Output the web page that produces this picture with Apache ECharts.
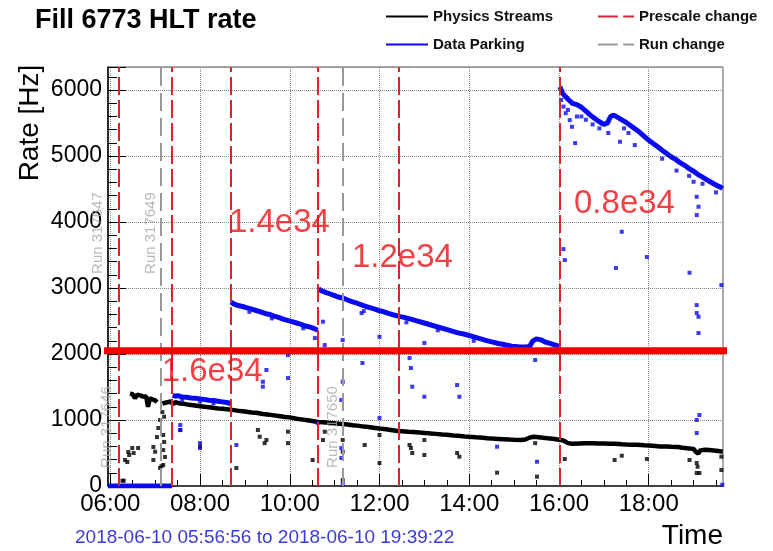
<!DOCTYPE html>
<html>
<head>
<meta charset="utf-8">
<title>Fill 6773 HLT rate</title>
<script src="https://cdn.jsdelivr.net/npm/echarts@6/dist/echarts.min.js"></script>
<style>
  html, body { margin: 0; padding: 0; background: #fff; }
  #chart { width: 773px; height: 551px; }
</style>
</head>
<body>
<div id="chart"></div>
<script>
// x values are hours of 2018-06-10
const fillStart = 5 + 56 / 60 + 56 / 3600   // 05:56:56
const fillEnd = 19 + 39 / 60 + 22 / 3600    // 19:39:22
const hourTicks = [6, 8, 10, 12, 14, 16, 18]
const halfHourTicks = [6.5, 7, 7.5, 8.5, 9, 9.5, 10.5, 11, 11.5, 12.5, 13, 13.5,
  14.5, 15, 15.5, 16.5, 17, 17.5, 18.5, 19, 19.5]

// main trend of the physics streams rate, '-' breaks the line
const physicsBand = [
  [6.44, 1400], [6.5, 1390], [6.55, 1330], [6.6, 1385], [6.68, 1370], [6.75, 1350], [6.8, 1360],
  [6.84, 1200], [6.88, 1330], [6.95, 1310], [7.0, 1300], [7.04, 1270], [7.1, '-'],
  [7.16, 1250], [7.25, 1265], [7.35, 1280], [7.4, 1240], [7.45, 1270], [7.55, 1250], [7.65, 1245],
  [7.75, 1230], [7.85, 1225], [8.0, 1210], [8.1, 1200], [8.25, 1190], [8.4, 1175], [8.5, 1170],
  [8.65, 1160], [8.75, 1150], [8.9, 1135], [9.0, 1130], [9.15, 1115], [9.25, 1110], [9.4, 1090],
  [9.5, 1085], [9.65, 1070], [9.75, 1060], [9.9, 1045], [10.0, 1040], [10.15, 1020], [10.25, 1010],
  [10.4, 995], [10.5, 985], [10.63, 970], [10.75, 965], [10.9, 955], [11.0, 950], [11.15, 940],
  [11.25, 935], [11.4, 920], [11.5, 915], [11.65, 900], [11.75, 895], [11.9, 880], [12.0, 870],
  [12.15, 860], [12.25, 850], [12.4, 835], [12.5, 830], [12.65, 822], [12.75, 820], [12.9, 810],
  [13.0, 805], [13.15, 795], [13.25, 790], [13.4, 780], [13.5, 775], [13.65, 765], [13.75, 760],
  [13.9, 750], [14.0, 745], [14.15, 738], [14.25, 735], [14.4, 725], [14.5, 720], [14.65, 714],
  [14.75, 710], [14.9, 703], [15.0, 700], [15.15, 698], [15.25, 705], [15.35, 735], [15.45, 745],
  [15.55, 740], [15.65, 730], [15.75, 722], [15.9, 712], [16.0, 700], [16.1, 690], [16.2, 650],
  [16.3, 640], [16.45, 645], [16.6, 648], [16.75, 646], [16.9, 644], [17.0, 645], [17.15, 642],
  [17.25, 640], [17.4, 633], [17.5, 630], [17.65, 627], [17.75, 625], [17.9, 618], [18.0, 615],
  [18.15, 607], [18.25, 600], [18.4, 597], [18.5, 594], [18.65, 590], [18.75, 580], [18.9, 570],
  [19.0, 560], [19.05, 520], [19.1, 490], [19.15, 540], [19.25, 550], [19.35, 545], [19.45, 538],
  [19.55, 530], [19.65, 520]
]

const physicsOutliers = [
  [6.27, 80], [6.3, 80], [6.33, 394], [6.38, 364], [6.4, 515], [6.42, 470], [6.49, 576], [6.52, 500],
  [6.62, 576], [6.96, 591], [6.96, 394], [7.0, 520], [7.04, 742], [7.07, 879], [7.11, 1000],
  [7.16, 1121], [7.18, 773], [7.2, 667], [7.18, 545], [7.22, 440], [7.18, 318], [7.11, 273],
  [7.14, 300], [7.2, 1050], [7.56, 848], [8.0, 595], [8.81, 273], [9.29, 848], [9.33, 747],
  [9.44, 650], [9.48, 697], [9.96, 823], [9.96, 650], [10.51, 394], [10.74, 697], [10.78, 823],
  [11.18, 697], [11.18, 520], [11.18, 90], [11.67, 621], [12.0, 773], [12.0, 348], [12.67, 621],
  [12.7, 576], [12.73, 500], [13.0, 697], [13.0, 470], [13.73, 500], [13.78, 444], [14.62, 202],
  [15.47, 650], [15.51, 141], [16.13, 409], [17.24, 394], [17.4, 459], [17.96, 409], [18.91, 394],
  [19.07, 348], [19.09, 292], [19.07, 197], [19.13, 197], [19.62, 242], [19.62, 444]
]

// data parking rate, one piece per prescale column
const parkingBand = [
  [5.949, 0], [7.38, 0], [7.385, '-'],
  [7.39, 1375], [7.45, 1360], [7.5, 1370], [7.6, 1350], [7.7, 1345], [7.8, 1335], [7.9, 1330],
  [8.0, 1320], [8.1, 1310], [8.2, 1300], [8.3, 1295], [8.4, 1285], [8.5, 1275], [8.6, 1265],
  [8.68, 1250], [8.685, '-'],
  [8.69, 2790], [8.75, 2760], [8.85, 2735], [8.95, 2720], [9.05, 2700], [9.15, 2680], [9.25, 2660],
  [9.35, 2640], [9.45, 2615], [9.55, 2600], [9.65, 2575], [9.75, 2555], [9.85, 2530], [9.95, 2510],
  [10.05, 2490], [10.15, 2470], [10.25, 2450], [10.35, 2425], [10.45, 2410], [10.55, 2385],
  [10.62, 2360], [10.625, '-'],
  [10.64, 2990], [10.7, 2960], [10.8, 2935], [10.9, 2910], [11.0, 2885], [11.1, 2860], [11.2, 2845],
  [11.3, 2815], [11.4, 2790], [11.5, 2770], [11.6, 2745], [11.7, 2720], [11.8, 2700], [11.9, 2680],
  [12.0, 2655], [12.1, 2640], [12.2, 2615], [12.3, 2595], [12.44, 2570], [12.55, 2555], [12.7, 2530],
  [12.85, 2500], [13.0, 2470], [13.15, 2440], [13.3, 2410], [13.45, 2380], [13.6, 2350], [13.75, 2320],
  [13.9, 2300], [14.05, 2270], [14.2, 2240], [14.35, 2210], [14.5, 2185], [14.65, 2160], [14.8, 2140],
  [14.95, 2120], [15.1, 2110], [15.25, 2105], [15.35, 2120], [15.42, 2200], [15.5, 2230], [15.6, 2215],
  [15.7, 2180], [15.8, 2160], [15.9, 2140], [16.0, 2120], [16.01, '-'],
  [16.02, 6050], [16.08, 5950], [16.15, 5900], [16.22, 5850], [16.3, 5800], [16.4, 5780], [16.5, 5740],
  [16.6, 5680], [16.7, 5620], [16.8, 5570], [16.9, 5520], [17.0, 5480], [17.08, 5500], [17.15, 5600],
  [17.22, 5620], [17.3, 5590], [17.4, 5550], [17.5, 5510], [17.6, 5460], [17.7, 5410], [17.8, 5360],
  [17.9, 5300], [18.0, 5240], [18.1, 5190], [18.2, 5140], [18.3, 5090], [18.4, 5040], [18.5, 4990],
  [18.6, 4950], [18.7, 4900], [18.8, 4860], [18.9, 4810], [19.0, 4770], [19.1, 4720], [19.2, 4680],
  [19.3, 4640], [19.4, 4600], [19.5, 4560], [19.6, 4530], [19.65, 4510]
]

const parkingOutliers = [
  [7.6, 1300], [8.0, 1280], [8.3, 1255], [9.1, 2640], [9.6, 2540], [10.3, 2390], [11.6, 2620],
  [11.65, 2650], [12.6, 2480], [13.3, 2360], [14.1, 2200], [15.3, 2080],
  [16.05, 5850], [16.1, 5750], [16.15, 5650], [16.2, 5700], [16.24, 5545], [16.29, 5444],
  [16.36, 5197], [16.4, 5600], [16.5, 5600], [16.6, 5550], [16.75, 5480], [16.9, 5420], [17.1, 5350],
  [17.36, 5217], [17.45, 5420], [17.55, 5350], [17.69, 5167], [18.3, 4960], [18.62, 4780],
  [18.9, 4700], [19.2, 4580], [19.5, 4450],
  [7.56, 924], [7.56, 848], [8.0, 650], [8.0, 576], [8.81, 621], [9.48, 1758], [9.4, 1580],
  [9.4, 1505], [9.96, 1985], [9.96, 1636], [10.56, 2242], [10.74, 2490], [10.78, 2136], [10.62, 955],
  [11.18, 2212], [11.18, 1580], [11.15, 1303], [11.15, 576], [11.15, 424], [11.18, 30],
  [11.62, 1864], [12.0, 2262], [12.0, 1030], [12.67, 1939], [12.7, 1788], [12.73, 1505],
  [13.0, 2167], [13.0, 1353], [13.73, 1530], [13.78, 1353], [14.62, 595], [15.47, 1909],
  [15.51, 368], [16.1, 3590], [16.13, 3424], [17.27, 3303], [17.4, 3853], [17.96, 3470],
  [18.91, 3232], [19.0, 4611], [19.07, 4383], [19.11, 4232], [19.07, 4106], [19.07, 2742],
  [19.07, 2621], [19.11, 2565], [19.11, 2318], [19.07, 1000], [19.13, 1076], [19.07, 803],
  [19.62, 3045], [19.64, 20]
]

const prescaleTimes = [6.18, 7.38, 8.68, 10.63, 12.44, 16.01]
const runChangeTimes = [7.13, 11.17]

const runLabels = ['Run 317646', 'Run 317647', 'Run 317649', 'Run 317650']
const runLabelTimes = [5.93, 5.73, 6.91, 10.96]
const runLabelRates = [894, 3833, 3833, 894]

const lumiLabels = ['1.6e34', '1.4e34', '1.2e34', '0.8e34']
const lumiTimes = [8.27, 9.77, 12.51, 17.46]
const lumiRates = [1730, 3990, 3460, 4270]

const thresholdRate = 2050
const thresholdSpan = [5.8, 19.78]

const fontFamily = '"Liberation Sans", Arial, sans-serif'

function hourLabel(v) {
  return (v < 10 ? '0' : '') + v + ':00'
}

// legend icons: plain thin line, and a long+short dash
const solidIcon = 'rect'
const dashIcon = 'path://M0,0H22V2H0ZM28,0H40V2H28Z'

const chart = echarts.init(document.getElementById('chart'))

chart.setOption({
  animation: false,
  textStyle: { fontFamily: fontFamily },
  title: [
    {
      text: 'Fill 6773 HLT rate', left: 35, top: 7, padding: 0,
      textStyle: { fontSize: 27, fontWeight: 'bold', color: '#000', fontFamily: fontFamily }
    },
    {
      text: '2018-06-10 05:56:56 to 2018-06-10 19:39:22', left: 75, top: 528, padding: 0,
      textStyle: { fontSize: 19, fontWeight: 'normal', color: '#3b3bd9', fontFamily: fontFamily }
    },
    {
      text: 'Time', right: 50, top: 522, padding: 0,
      textStyle: { fontSize: 28, fontWeight: 'normal', color: '#000', fontFamily: fontFamily }
    }
  ],
  graphic: [
    {
      type: 'text', x: 30, y: 123, rotation: Math.PI / 2,
      style: {
        text: 'Rate [Hz]', fontSize: 28, fontFamily: fontFamily, fill: '#000',
        textAlign: 'center', textVerticalAlign: 'middle'
      }
    }
  ],
  legend: [
    {
      data: [
        { name: 'Physics Streams', icon: solidIcon },
        { name: 'Data Parking', icon: solidIcon }
      ],
      orient: 'vertical', left: 381, top: 3, itemWidth: 42, itemHeight: 2, itemGap: 11,
      textStyle: { fontSize: 15, fontWeight: 'bold', color: '#111', lineHeight: 17 }
    },
    {
      data: [
        { name: 'Prescale change', icon: dashIcon },
        { name: 'Run change', icon: dashIcon }
      ],
      orient: 'vertical', left: 593, top: 3, itemWidth: 36, itemHeight: 2, itemGap: 11,
      textStyle: { fontSize: 15, fontWeight: 'bold', color: '#111', lineHeight: 17 }
    }
  ],
  grid: [
    { left: 108, right: 50, top: 67, bottom: 65, show: true, borderColor: '#555', borderWidth: 1 },
    { left: 108, right: 50, top: 67, bottom: 65, show: false }
  ],
  xAxis: [
    {
      type: 'value', gridIndex: 0, min: fillStart, max: fillEnd,
      axisLine: { lineStyle: { color: '#222', width: 1.5 } },
      axisTick: { customValues: hourTicks, inside: true, length: 12, lineStyle: { color: '#000' } },
      axisLabel: {
        customValues: hourTicks, formatter: hourLabel, fontSize: 24, color: '#000', margin: 6
      },
      splitLine: { show: true, lineStyle: { color: '#888', type: 'dotted' } }
    },
    {
      type: 'value', gridIndex: 1, min: fillStart, max: fillEnd,
      axisLine: { show: false },
      axisTick: { customValues: halfHourTicks, inside: true, length: 6, lineStyle: { color: '#000' } },
      axisLabel: { show: false },
      splitLine: { show: false }
    }
  ],
  yAxis: [
    {
      type: 'value', gridIndex: 0, min: 0, max: 6350, interval: 1000,
      axisLine: { show: true, lineStyle: { color: '#000', width: 1.5 } },
      axisTick: { inside: true, length: 18, lineStyle: { color: '#000' } },
      minorTick: { show: true, splitNumber: 5, length: 9, lineStyle: { color: '#000' } },
      axisLabel: {
        fontSize: 23, color: '#000', margin: 6, showMaxLabel: false,
        formatter: v => String(v)
      },
      splitLine: { show: true, lineStyle: { color: '#888', type: 'dotted' } }
    },
    { type: 'value', gridIndex: 1, min: 0, max: 6350, show: false }
  ],
  series: [
    {
      name: 'Physics Streams', type: 'line', data: physicsBand, symbol: 'none',
      connectNulls: false, color: '#000', lineStyle: { color: '#000', width: 4.5 }, z: 3
    },
    {
      name: 'Data Parking', type: 'line', data: parkingBand, symbol: 'none',
      connectNulls: false, color: '#0a0aee', lineStyle: { color: '#0a0aee', width: 5 }, z: 4
    },
    {
      name: 'Prescale change', type: 'line', data: [], symbol: 'none', color: '#d8262e',
      markLine: {
        silent: true, symbol: ['none', 'none'], label: { show: false },
        lineStyle: { color: '#d8262e', width: 2, type: [18, 5] },
        data: prescaleTimes.map(t => ({ xAxis: t }))
      },
      z: 6
    },
    {
      name: 'Run change', type: 'line', data: [], symbol: 'none', color: '#999',
      markLine: {
        silent: true, symbol: ['none', 'none'], label: { show: false },
        lineStyle: { color: '#999', width: 2, type: [18, 7] },
        data: runChangeTimes.map(t => ({ xAxis: t }))
      },
      z: 6
    },
    {
      name: 'Physics Streams', type: 'scatter', data: physicsOutliers, symbol: 'rect',
      symbolSize: 4, itemStyle: { color: '#000' }, z: 3
    },
    {
      name: 'Data Parking', type: 'scatter', data: parkingOutliers, symbol: 'rect',
      symbolSize: 4, itemStyle: { color: '#0a0aee' }, z: 4
    },
    {
      name: 'threshold', type: 'line', clip: false, symbol: 'none', silent: true,
      data: thresholdSpan.map(t => [t, thresholdRate]),
      lineStyle: { color: '#f20000', width: 7 }, z: 7
    },
    {
      name: 'run labels', type: 'scatter', clip: false, silent: true, symbolSize: 1,
      itemStyle: { color: 'rgba(0,0,0,0)' },
      data: runLabels.map((s, i) => ({ name: s, value: [runLabelTimes[i], runLabelRates[i]] })),
      label: {
        show: true, position: 'inside', rotate: 90, formatter: '{b}',
        color: '#a8a8a8', fontSize: 15, fontFamily: fontFamily, textBorderWidth: 0
      },
      z: 8
    },
    {
      name: 'lumi labels', type: 'scatter', clip: false, silent: true, symbolSize: 1,
      itemStyle: { color: 'rgba(0,0,0,0)' },
      data: lumiLabels.map((s, i) => ({ name: s, value: [lumiTimes[i], lumiRates[i]] })),
      label: {
        show: true, position: 'inside', formatter: '{b}',
        color: '#ec1118', fontSize: 33, fontFamily: fontFamily, textBorderWidth: 0
      },
      z: 9
    }
  ]
})
</script>
</body>
</html>
